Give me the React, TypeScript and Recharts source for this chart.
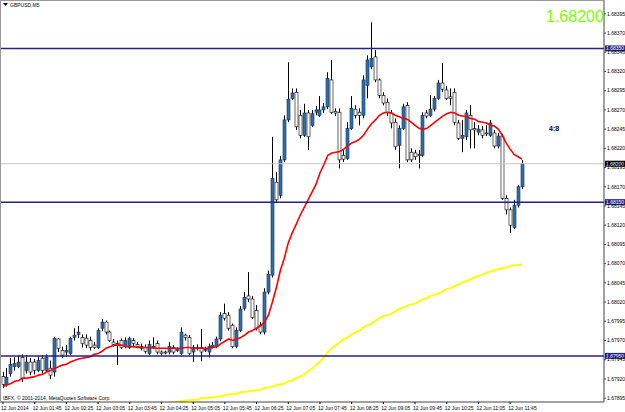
import React from 'react';
import { ComposedChart, Bar, Line, XAxis, YAxis, ReferenceLine } from 'recharts';

// GBPUSD M5, 12 Jun 2014 01:05 .. 12:00 (132 bars)
const OPEN = [
  1.67923, 1.67913, 1.67927, 1.67936, 1.67936, 1.67948, 1.67931, 1.67942, 1.67942, 1.67931,
  1.67947, 1.67931, 1.67934, 1.67929, 1.67972, 1.67957, 1.67955, 1.67953, 1.67974, 1.67978,
  1.67974, 1.67973, 1.6797, 1.67964, 1.67961, 1.67986, 1.67994, 1.67981, 1.67968, 1.67966,
  1.6797, 1.67962, 1.67961, 1.6797, 1.67965, 1.67962, 1.67961, 1.67953, 1.67962, 1.67966,
  1.67955, 1.67955, 1.67955, 1.67961, 1.67957, 1.67953, 1.67977, 1.67974, 1.67955, 1.6796,
  1.67961, 1.67957, 1.67955, 1.67962, 1.67962, 1.67972, 1.68005, 1.68003, 1.6799, 1.67962,
  1.67983, 1.68012, 1.68028, 1.68024, 1.68009, 1.6799, 1.67981, 1.68033, 1.68055, 1.68176,
  1.68159, 1.68205, 1.68257, 1.68285, 1.68293, 1.68263, 1.68237, 1.68266, 1.6825, 1.68267,
  1.68263, 1.6827, 1.68274, 1.68309, 1.68268, 1.68267, 1.68211, 1.68207, 1.68246, 1.68271,
  1.68267, 1.68263, 1.68302, 1.68326, 1.68339, 1.68309, 1.68289, 1.6828, 1.68266, 1.68254,
  1.68224, 1.68246, 1.68276, 1.68215, 1.68214, 1.68212, 1.68211, 1.68266, 1.68263, 1.68271,
  1.68285, 1.68305, 1.68296, 1.68287, 1.68293, 1.68253, 1.68233, 1.68235, 1.68263, 1.68246,
  1.68241, 1.68244, 1.6824, 1.68237, 1.6824, 1.68223, 1.68236, 1.68155, 1.6814, 1.68117,
  1.68146, 1.6817,
];
const HIGH = [
  1.67929, 1.67934, 1.67947, 1.67948, 1.67951, 1.67952, 1.67951, 1.67947, 1.67946, 1.67949,
  1.67951, 1.67952, 1.67944, 1.67975, 1.67973, 1.67962, 1.67964, 1.67975, 1.67986, 1.67989,
  1.67978, 1.67978, 1.67975, 1.67968, 1.67986, 1.67998, 1.67996, 1.67983, 1.67972, 1.6797,
  1.67973, 1.67974, 1.67975, 1.67973, 1.67968, 1.67966, 1.67965, 1.6797, 1.67974, 1.6797,
  1.67957, 1.67957, 1.67968, 1.67964, 1.67961, 1.67987, 1.67979, 1.67977, 1.67964, 1.67965,
  1.67985, 1.67962, 1.67966, 1.67968, 1.67975, 1.68007, 1.68018, 1.68007, 1.67992, 1.67987,
  1.68015, 1.68033, 1.68059, 1.68028, 1.68016, 1.67994, 1.68038, 1.68061, 1.68235, 1.68189,
  1.6821, 1.68263, 1.68332, 1.68298, 1.68298, 1.6827, 1.68278, 1.6827, 1.6827, 1.68275,
  1.68288, 1.68279, 1.68319, 1.68335, 1.68272, 1.68272, 1.68218, 1.68254, 1.68288, 1.68276,
  1.68272, 1.68315, 1.68341, 1.68384, 1.68348, 1.68311, 1.68293, 1.68285, 1.6827, 1.68259,
  1.6825, 1.68278, 1.6828, 1.6822, 1.68218, 1.68218, 1.68267, 1.6827, 1.68289, 1.68288,
  1.68309, 1.68331, 1.68301, 1.68298, 1.68298, 1.68257, 1.68257, 1.6827, 1.68276, 1.68254,
  1.6825, 1.68249, 1.6825, 1.68257, 1.68244, 1.6824, 1.68239, 1.68159, 1.68143, 1.68153,
  1.68172, 1.68205,
];
const LOW = [
  1.67908, 1.6791, 1.67923, 1.67931, 1.67934, 1.67916, 1.67927, 1.67925, 1.67926, 1.67929,
  1.67927, 1.67929, 1.6792, 1.67923, 1.67955, 1.67947, 1.67949, 1.67951, 1.6797, 1.67973,
  1.67961, 1.6796, 1.67957, 1.67959, 1.67959, 1.67982, 1.67978, 1.67968, 1.67962, 1.67938,
  1.67959, 1.6796, 1.67959, 1.67961, 1.6796, 1.67957, 1.67953, 1.67951, 1.67959, 1.67952,
  1.67951, 1.67952, 1.67952, 1.67952, 1.67955, 1.67951, 1.6797, 1.67951, 1.67942, 1.67957,
  1.67943, 1.67955, 1.67948, 1.6796, 1.6796, 1.67969, 1.67996, 1.67983, 1.6796, 1.6796,
  1.67981, 1.68009, 1.6802, 1.67998, 1.67983, 1.67978, 1.67978, 1.6803, 1.68052, 1.68149,
  1.68155, 1.68202, 1.68254, 1.68283, 1.68244, 1.68233, 1.68235, 1.68218, 1.68248, 1.68263,
  1.68261, 1.68266, 1.68271, 1.68265, 1.68262, 1.68194, 1.68202, 1.68205, 1.68244, 1.68259,
  1.6825, 1.68259, 1.68285, 1.68323, 1.68306, 1.68285, 1.68276, 1.68262, 1.68246, 1.68218,
  1.68194, 1.68244, 1.68202, 1.68202, 1.68205, 1.68194, 1.68209, 1.68259, 1.68261, 1.68268,
  1.68283, 1.68293, 1.68283, 1.68276, 1.6825, 1.68231, 1.68215, 1.68231, 1.6822, 1.6822,
  1.68237, 1.68233, 1.68236, 1.68235, 1.6822, 1.6822, 1.68153, 1.68134, 1.6811, 1.68115,
  1.68143, 1.68167,
];
const CLOSE = [
  1.67913, 1.67922, 1.67939, 1.6794, 1.67942, 1.67921, 1.67942, 1.67929, 1.67931, 1.67944,
  1.67931, 1.67948, 1.67925, 1.67973, 1.6796, 1.67951, 1.67957, 1.67973, 1.67977, 1.67981,
  1.67966, 1.67964, 1.67961, 1.67961, 1.67983, 1.67994, 1.67981, 1.6797, 1.67965, 1.67964,
  1.67961, 1.6797, 1.67973, 1.67966, 1.67962, 1.6796, 1.67956, 1.67965, 1.67961, 1.67955,
  1.67953, 1.67955, 1.67962, 1.67955, 1.67959, 1.67981, 1.67974, 1.67953, 1.67961, 1.67961,
  1.67955, 1.67959, 1.67962, 1.67964, 1.67972, 1.68003, 1.67999, 1.67986, 1.67962, 1.67983,
  1.68011, 1.68026, 1.68024, 1.68, 1.67986, 1.67981, 1.68033, 1.68056, 1.68181, 1.68153,
  1.68205, 1.68257, 1.68284, 1.68292, 1.68248, 1.68237, 1.68266, 1.68235, 1.68265, 1.6827,
  1.6827, 1.68274, 1.68311, 1.68267, 1.68266, 1.68205, 1.68206, 1.68246, 1.68272, 1.68263,
  1.68263, 1.68309, 1.68335, 1.68337, 1.68309, 1.68289, 1.68279, 1.68267, 1.68253, 1.68222,
  1.68246, 1.68274, 1.68205, 1.68205, 1.68209, 1.68211, 1.68263, 1.68262, 1.68271, 1.68285,
  1.68305, 1.68297, 1.68285, 1.68285, 1.68254, 1.68233, 1.68237, 1.68266, 1.68244, 1.68244,
  1.68245, 1.68237, 1.68239, 1.68253, 1.68223, 1.68236, 1.68155, 1.6814, 1.6812, 1.68146,
  1.6817, 1.682,
];

// red moving average (fast)
const MA_FAST = [
  1.6791, 1.67912, 1.67914, 1.67917, 1.67918, 1.67921, 1.67921, 1.67922, 1.67923, 1.67925,
  1.67926, 1.67929, 1.67931, 1.67934, 1.67936, 1.67938, 1.67939, 1.67942, 1.67944, 1.67946,
  1.67947, 1.67948, 1.67949, 1.67952, 1.67953, 1.67956, 1.6796, 1.67962, 1.67964, 1.67964,
  1.67964, 1.67962, 1.67962, 1.67962, 1.67961, 1.67961, 1.67961, 1.67961, 1.6796, 1.6796,
  1.6796, 1.6796, 1.6796, 1.6796, 1.6796, 1.6796, 1.67961, 1.67961, 1.6796, 1.6796,
  1.6796, 1.6796, 1.6796, 1.67961, 1.67962, 1.67966, 1.67969, 1.67972, 1.6797, 1.67972,
  1.67974, 1.67977, 1.67981, 1.67983, 1.67986, 1.67989, 1.67994, 1.68003, 1.6802, 1.68039,
  1.68061, 1.68077, 1.68097, 1.6811, 1.68121, 1.68133, 1.68143, 1.68153, 1.68163, 1.68173,
  1.68188, 1.68199, 1.68211, 1.68214, 1.68215, 1.68216, 1.68219, 1.68223, 1.68227, 1.68229,
  1.68232, 1.68237, 1.68245, 1.68252, 1.68257, 1.68263, 1.68266, 1.68267, 1.68266, 1.68263,
  1.68261, 1.68259, 1.68258, 1.68254, 1.6825, 1.68246, 1.68245, 1.68246, 1.6825, 1.68254,
  1.68258, 1.68262, 1.68265, 1.68267, 1.68266, 1.68263, 1.68262, 1.68261, 1.68259, 1.68258,
  1.68255, 1.68254, 1.68253, 1.6825, 1.68249, 1.68245, 1.68237, 1.68227, 1.68219, 1.68212,
  1.68209, 1.68206,
];

// yellow moving average (slow), visible from bar 42 on
const MA_SLOW_START = 42;
const MA_SLOW = [
  1.67888, 1.6789, 1.6789, 1.67891, 1.67892, 1.67892, 1.67893, 1.67893, 1.67895, 1.67895,
  1.67896, 1.67896, 1.67897, 1.67897, 1.67899, 1.679, 1.679, 1.67901, 1.67903, 1.67903,
  1.67904, 1.67905, 1.67905, 1.67906, 1.67908, 1.67909, 1.6791, 1.67912, 1.67913, 1.67914,
  1.67917, 1.67918, 1.67921, 1.67923, 1.67926, 1.6793, 1.67934, 1.67938, 1.67943, 1.67948,
  1.67955, 1.6796, 1.67964, 1.67968, 1.67972, 1.67974, 1.67978, 1.67981, 1.67983, 1.67987,
  1.6799, 1.67992, 1.67996, 1.67999, 1.68002, 1.68003, 1.68005, 1.68008, 1.68011, 1.68013,
  1.68015, 1.68017, 1.68018, 1.68021, 1.68024, 1.68025, 1.68028, 1.6803, 1.68031, 1.68034,
  1.68037, 1.68038, 1.68041, 1.68043, 1.68046, 1.68047, 1.6805, 1.68052, 1.68054, 1.68056,
  1.68058, 1.6806, 1.68061, 1.68063, 1.68064, 1.68065, 1.68067, 1.68068, 1.68068, 1.68069,
];

const TICK_BARS = [0, 8, 16, 24, 32, 40, 48, 56, 64, 72, 80, 88, 96, 104, 112, 120, 128];
const TICK_LABELS = [
  '12 Jun 2014', '12 Jun 01:45', '12 Jun 02:25', '12 Jun 03:05', '12 Jun 03:45', '12 Jun 04:25',
  '12 Jun 05:05', '12 Jun 05:45', '12 Jun 06:25', '12 Jun 07:05', '12 Jun 07:45', '12 Jun 08:25',
  '12 Jun 09:05', '12 Jun 09:45', '12 Jun 10:25', '12 Jun 11:05', '12 Jun 11:45',
];
const PRICE_TICKS = [
  1.67895, 1.6792, 1.67945, 1.6797, 1.67995, 1.6802, 1.68045, 1.6807, 1.68095, 1.6812, 1.68145,
  1.6817, 1.68195, 1.6822, 1.68245, 1.6827, 1.68295, 1.6832, 1.68345, 1.6837, 1.68395,
];
const LEVELS = [1.6835, 1.6815, 1.6795];
const LAST_PRICE = 1.682;

const FONT = "'Liberation Sans', Arial, sans-serif";
const PLOT_BOTTOM = 402;

const rows = OPEN.map((o, i) => ({
  i,
  o,
  h: HIGH[i],
  l: LOW[i],
  c: CLOSE[i],
  range: [LOW[i], HIGH[i]],
  ma: MA_FAST[i],
  ma2: i >= MA_SLOW_START ? MA_SLOW[i - MA_SLOW_START] : null,
}));

const Candle = (props: any) => {
  const { x, y, width, height, payload } = props;
  if (!payload) return null;
  const { o, h, l, c } = payload;
  const top = Math.min(y, y + height);
  const hh = Math.abs(height);
  const k = h > l ? hh / (h - l) : 0;
  const cx = Math.floor(x + width / 2);
  const bTop = top + (h - Math.max(o, c)) * k;
  const bBot = top + (h - Math.min(o, c)) * k;
  const up = c > o;
  return (
    <g>
      <line x1={cx + 0.5} x2={cx + 0.5} y1={top} y2={top + hh} stroke="#000" strokeWidth={1} />
      <rect
        x={cx - 1}
        y={bTop}
        width={3}
        height={Math.max(bBot - bTop, 1)}
        fill={up ? '#2f6fae' : '#fff'}
        stroke={up ? '#14304f' : '#000'}
        strokeWidth={0.6}
      />
    </g>
  );
};

const Tag = ({ viewBox, text, bg }: any) => {
  if (!viewBox) return null;
  const x = viewBox.x + viewBox.width + 1;
  const y = viewBox.y;
  return (
    <g>
      <rect x={x} y={y - 3} width={20} height={6} fill={bg} />
      <text x={x + 1} y={y + 2} fontSize={5} fill="#fff" fontFamily={FONT}>{text}</text>
    </g>
  );
};

const XTick = ({ x, payload }: any) => {
  const k = TICK_BARS.indexOf(payload.value);
  if (k < 0) return null;
  return (
    <g>
      <line x1={x} x2={x} y1={PLOT_BOTTOM} y2={PLOT_BOTTOM + 2} stroke="#000" />
      <text x={x - 2} y={PLOT_BOTTOM + 8} fontSize={5} fill="#000" fontFamily={FONT}>
        {TICK_LABELS[k]}
      </text>
    </g>
  );
};

export default function App() {
  return (
    <div style={{ position: 'absolute', left: 0, top: 0, width: 625, height: 412, background: '#fff' }}>
      <ComposedChart
        width={625}
        height={412}
        data={rows}
        margin={{ top: 0, right: 0, bottom: 0, left: 0 }}
        barCategoryGap={0}
      >
        <XAxis
          dataKey="i"
          type="category"
          ticks={TICK_BARS}
          interval={0}
          height={10}
          padding={{ left: 1, right: 80 }}
          tick={<XTick />}
          tickLine={false}
          axisLine={{ stroke: '#444' }}
        />
        <YAxis
          orientation="right"
          width={21}
          domain={[1.6789, 1.68413]}
          allowDataOverflow
          ticks={PRICE_TICKS}
          interval={0}
          tickSize={2}
          tickMargin={1}
          tickFormatter={(v: number) => v.toFixed(5)}
          tick={{ fontSize: 5, fill: '#000', fontFamily: FONT }}
          tickLine={{ stroke: '#444' }}
          axisLine={{ stroke: '#444' }}
        />
        <ReferenceLine
          y={LAST_PRICE}
          stroke="#c8c8c8"
          strokeWidth={1}
          label={<Tag text={LAST_PRICE.toFixed(5)} bg="#000" />}
        />
        <Bar dataKey="range" shape={<Candle />} activeBar={false} isAnimationActive={false} />
        <Line
          dataKey="ma2"
          stroke="#ffff00"
          strokeWidth={2}
          dot={false}
          activeDot={false}
          isAnimationActive={false}
        />
        <Line
          dataKey="ma"
          stroke="#ff0000"
          strokeWidth={1.6}
          dot={false}
          activeDot={false}
          isAnimationActive={false}
        />
        {LEVELS.map((lv) => (
          <ReferenceLine
            key={lv}
            y={lv}
            stroke="#24228a"
            strokeWidth={1.5}
            label={<Tag text={lv.toFixed(5)} bg="#24228a" />}
          />
        ))}
      </ComposedChart>
      <svg
        width={625}
        height={412}
        style={{ position: 'absolute', left: 0, top: 0, pointerEvents: 'none' }}
      >
        <line x1={0} x2={604} y1={0.5} y2={0.5} stroke="#999" />
        <line x1={0.5} x2={0.5} y1={0} y2={PLOT_BOTTOM} stroke="#999" />
        <polygon points="3,3 8,3 5.5,6" fill="#000" />
        <text x={10} y={7} fontSize={5} fill="#000" fontFamily={FONT}>GBPUSD,M5</text>
        <text x={546} y={22} fontSize={16} fill="#7cfc00" fontFamily={FONT}>1.68200</text>
        <text x={549} y={131} fontSize={7} fontWeight="bold" fill="#000" fontFamily={FONT}>4:8</text>
        <text x={3} y={400} fontSize={5} fill="#000" fontFamily={FONT}>
          IBFX, © 2001-2014, MetaQuotes Software Corp.
        </text>
      </svg>
    </div>
  );
}
